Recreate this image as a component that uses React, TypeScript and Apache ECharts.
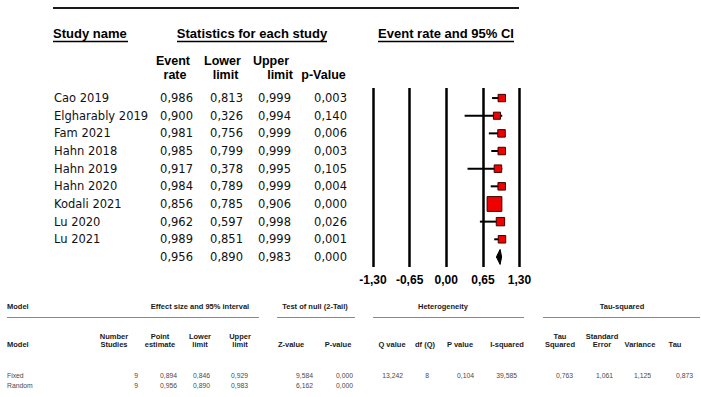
import React, { useEffect, useRef } from "react";
import * as echarts from "echarts";

// Per-study statistics (event rate with 95% CI)
const studies = [
  "Cao 2019",
  "Elgharably 2019",
  "Fam 2021",
  "Hahn 2018",
  "Hahn 2019",
  "Hahn 2020",
  "Kodali 2021",
  "Lu 2020",
  "Lu 2021",
];
const eventRate = [0.986, 0.9, 0.981, 0.985, 0.917, 0.984, 0.856, 0.962, 0.989];
const lowerLimit = [0.813, 0.326, 0.756, 0.799, 0.378, 0.789, 0.785, 0.597, 0.851];
const upperLimit = [0.999, 0.994, 0.999, 0.999, 0.995, 0.999, 0.906, 0.998, 0.999];
const pValue = [0.003, 0.14, 0.006, 0.003, 0.105, 0.004, 0.0, 0.026, 0.001];
// Relative weights (%) driving the box sizes
const relWeight = [7.8, 7.2, 8.0, 8.0, 8.0, 8.0, 31.0, 10.0, 8.0];

// Pooled estimate: rate, lower, upper, p
const pooled = [0.956, 0.89, 0.983, 0.0];

// Forest axis
const axisMin = -1.3;
const axisMax = 1.3;
const axisStep = 0.65;

// Model summary table
const modelNames = ["Fixed", "Random"];
const fixedStats = [9, 0.894, 0.846, 0.929, 9.584, 0.0, 13.242, 8, 0.104, 39.585, 0.763, 1.061, 1.125, 0.873];
const randomStats = [9, 0.956, 0.89, 0.983, 6.162, 0.0];
const statDecimals = [0, 3, 3, 3, 3, 3, 3, 0, 3, 3, 3, 3, 3, 3];

const fmt = (v: number, d = 3) => v.toFixed(d).replace(".", ",");

const SANS = '"Liberation Sans", Arial, sans-serif';
const DATA = '"DejaVu Sans", sans-serif';

export default function App() {
  const ref = useRef<HTMLDivElement>(null);

  useEffect(() => {
    if (!ref.current) return;
    const chart = echarts.init(ref.current, null, { renderer: "svg" });

    const rows = studies.map((_, i) => [eventRate[i], lowerLimit[i], upperLimit[i], i, relWeight[i]]);
    const pooledRow = studies.length;

    chart.setOption({
      animation: false,
      backgroundColor: "#ffffff",
      grid: { left: 373, right: 181.5, top: 88, height: 179, containLabel: false },
      xAxis: {
        type: "value",
        min: axisMin,
        max: axisMax,
        interval: axisStep,
        axisLine: { show: false },
        axisTick: { show: false },
        splitLine: { show: true, lineStyle: { color: "#000000", width: 2.5 } },
        axisLabel: {
          margin: 7,
          color: "#000000",
          fontFamily: SANS,
          fontWeight: "bold",
          fontSize: 12,
          formatter: (v: number) => fmt(v, 2),
        },
      },
      yAxis: { type: "value", min: -0.57, max: 9.57, inverse: true, show: false },
      series: [
        {
          type: "custom",
          data: rows,
          renderItem: (_p: any, api: any) => {
            const est = api.value(0);
            const lo = api.value(1);
            const hi = api.value(2);
            const row = api.value(3);
            const w = api.value(4);
            const pE = api.coord([est, row]);
            const pL = api.coord([lo, row]);
            const pH = api.coord([hi, row]);
            const s = 2.65 * Math.sqrt(w);
            return {
              type: "group",
              children: [
                {
                  type: "line",
                  shape: { x1: pL[0], y1: pL[1], x2: pH[0], y2: pH[1] },
                  style: { stroke: "#000000", lineWidth: 2 },
                },
                {
                  type: "rect",
                  shape: { x: pE[0] - s / 2, y: pE[1] - s / 2, width: s, height: s },
                  style: { fill: "#f00000", stroke: "#3a0000", lineWidth: 1 },
                },
              ],
            };
          },
        },
        {
          type: "custom",
          data: [[pooled[0], pooled[1], pooled[2], pooledRow]],
          renderItem: (_p: any, api: any) => {
            const row = api.value(3);
            const pE = api.coord([api.value(0), row]);
            const pL = api.coord([api.value(1), row]);
            const pH = api.coord([api.value(2), row]);
            const h = 7.5;
            return {
              type: "polygon",
              shape: {
                points: [
                  [pL[0], pE[1]],
                  [pE[0], pE[1] - h],
                  [pH[0], pE[1]],
                  [pE[0], pE[1] + h],
                ],
              },
              style: { fill: "#000000", stroke: "#000000", lineWidth: 1 },
            };
          },
        },
      ],
    });

    const rowY = (i: number) => chart.convertToPixel({ yAxisIndex: 0 }, i) as number;

    const g: any[] = [];
    const text = (
      t: string,
      x: number,
      y: number,
      opts: { size?: number; bold?: boolean; align?: string; color?: string; family?: string } = {}
    ) => {
      g.push({
        type: "text",
        x,
        y,
        style: {
          text: t,
          fill: opts.color ?? "#000000",
          fontFamily: opts.family ?? SANS,
          fontSize: opts.size ?? 13,
          fontWeight: opts.bold ? "bold" : "normal",
          align: opts.align ?? "left",
          verticalAlign: "middle",
        },
      });
    };
    const rule = (x1: number, x2: number, y: number, width: number, color: string) => {
      g.push({
        type: "line",
        shape: { x1, y1: y, x2, y2: y },
        style: { stroke: color, lineWidth: width },
      });
    };

    // Top rule and section headers
    rule(53, 519, 8, 2, "#1a1a1a");
    text("Study name", 53, 33, { bold: true });
    rule(53, 128, 41.5, 1.3, "#000000");
    text("Statistics for each study", 252, 33, { bold: true, align: "center" });
    rule(177, 327, 41.5, 1.3, "#000000");
    text("Event rate and 95% CI", 446, 33, { bold: true, align: "center" });
    rule(378, 514, 41.5, 1.3, "#000000");

    // Column headers (two lines each)
    const h1 = 60.5;
    const h2 = 74.5;
    const hdr = { bold: true, align: "center", size: 12.5 };
    text("Event", 173, h1, hdr);
    text("rate", 175, h2, hdr);
    text("Lower", 222.5, h1, hdr);
    text("limit", 225.5, h2, hdr);
    text("Upper", 271, h1, hdr);
    text("limit", 280, h2, hdr);
    text("p-Value", 323.5, h2, hdr);

    // Study rows
    const colRight = [193, 243, 291, 347];
    const dataOpts = { size: 11.5, family: DATA, align: "right", color: "#111111" };
    studies.forEach((name, i) => {
      const y = rowY(i);
      text(name, 54, y, { size: 11.5, family: DATA, color: "#111111" });
      text(fmt(eventRate[i]), colRight[0], y, dataOpts);
      text(fmt(lowerLimit[i]), colRight[1], y, dataOpts);
      text(fmt(upperLimit[i]), colRight[2], y, dataOpts);
      text(fmt(pValue[i]), colRight[3], y, dataOpts);
    });
    const py = rowY(pooledRow);
    pooled.forEach((v, k) => text(fmt(v), colRight[k], py, dataOpts));

    // Model summary table
    const hs = { size: 7.5, bold: true, color: "#1a1a1a" };
    text("Model", 7, 306.5, hs);
    text("Effect size and 95% interval", 200, 306.5, { ...hs, align: "center" });
    text("Test of null (2-Tail)", 315, 306.5, { ...hs, align: "center" });
    text("Heterogeneity", 443, 306.5, { ...hs, align: "center" });
    text("Tau-squared", 622, 306.5, { ...hs, align: "center" });
    rule(7, 259, 317.5, 1.2, "#8a8a8a");
    rule(277, 355, 317.5, 1.2, "#8a8a8a");
    rule(373, 524, 317.5, 1.2, "#8a8a8a");
    rule(543, 700, 317.5, 1.2, "#8a8a8a");

    text("Model", 7, 344.5, hs);
    const subHeads: [string, string, number][] = [
      ["Number", "Studies", 114],
      ["Point", "estimate", 160],
      ["Lower", "limit", 200],
      ["Upper", "limit", 240],
      ["", "Z-value", 291],
      ["", "P-value", 338],
      ["", "Q value", 392],
      ["", "df (Q)", 425],
      ["", "P value", 460],
      ["", "I-squared", 507],
      ["Tau", "Squared", 560],
      ["Standard", "Error", 602],
      ["", "Variance", 640],
      ["", "Tau", 675],
    ];
    subHeads.forEach(([a, b, x]) => {
      if (a) text(a, x, 336.5, { ...hs, align: "center" });
      text(b, x, 344.5, { ...hs, align: "center" });
    });

    const statRight = [138, 177, 210, 248, 313, 353, 403, 429, 474, 517, 573, 613, 651, 693];
    const ds = { size: 6.8, color: "#4a4a4a", align: "right" };
    [fixedStats, randomStats].forEach((vals, r) => {
      const y = 375 + r * 10;
      text(modelNames[r], 7, y, { size: 6.8, color: "#4a4a4a" });
      vals.forEach((v, k) => text(fmt(v, statDecimals[k]), statRight[k], y, ds));
    });

    chart.setOption({ graphic: g });

    return () => chart.dispose();
  }, []);

  return (
    <div
      ref={ref}
      style={{ position: "absolute", left: 0, top: 0, width: 701, height: 397, background: "#ffffff" }}
    />
  );
}
